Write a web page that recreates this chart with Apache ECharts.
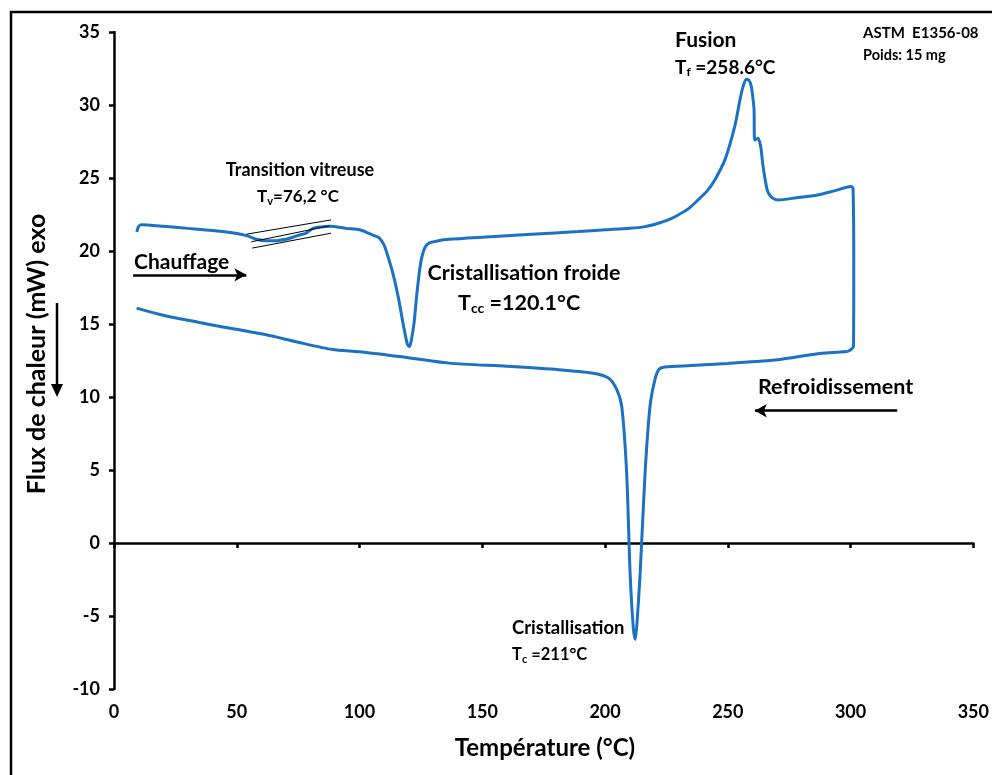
<!DOCTYPE html>
<html>
<head>
<meta charset="utf-8">
<script src="https://cdn.jsdelivr.net/npm/echarts@6/dist/echarts.min.js"></script>
<style>
html,body{margin:0;padding:0;background:#fff;}
#c{width:992px;height:775px;}
</style>
</head>
<body>
<div id="c"></div>
<script>
// ---- data ----
const xTicks = [0, 50, 100, 150, 200, 250, 300, 350];
const yTicks = [-10, -5, 0, 5, 10, 15, 20, 25, 30, 35];

// heating run (T in °C, heat flow in mW), including the drop at the end of the ramp
const heatT = [9.3, 9.9, 11, 20, 30, 40, 50, 54, 58, 62, 66, 70, 73, 75.5, 78, 81, 84, 88, 94.5, 100, 102.6, 106, 108, 110, 112, 114, 116, 118, 119.5, 120.3, 121, 122.2, 123.5, 124.9, 126.5, 128.3, 132, 136.4, 150, 170, 189, 200, 210, 216.3, 221.7, 226, 229.8, 234, 237.9, 241.5, 244.7, 248.8, 252.8, 255, 256.2, 257.5, 258.6, 259.6, 260.4, 260.7, 260.9, 262.3, 263.4, 264.2, 265, 266, 267, 268.5, 270.4, 278, 286.6, 293, 300.2, 301, 301.3, 301.2, 300.5, 298.8];
const heatFlux = [21.3, 21.65, 21.8, 21.7, 21.55, 21.4, 21.2, 21.05, 20.8, 20.7, 20.7, 20.8, 20.95, 21.1, 21.2, 21.55, 21.65, 21.7, 21.55, 21.45, 21.3, 21.05, 20.9, 20.4, 19.4, 18.2, 16.65, 14.8, 13.6, 13.45, 13.8, 15.06, 17.3, 19.17, 20.2, 20.54, 20.7, 20.8, 20.95, 21.15, 21.33, 21.45, 21.55, 21.67, 21.9, 22.15, 22.47, 22.9, 23.5, 24.1, 24.87, 26.24, 28.52, 30.4, 31.26, 31.76, 31.7, 31.26, 30.2, 29.66, 27.6, 27.72, 27.15, 26.0, 25.1, 24.2, 23.84, 23.6, 23.5, 23.65, 23.84, 24.1, 24.41, 24.3, 18.94, 13.5, 13.3, 13.12];

// cooling run
const coolT = [298.8, 286.6, 270.4, 250, 235, 224.4, 222, 220.3, 218.3, 216.3, 214.3, 213, 212.3, 211.5, 210.2, 208.8, 206.8, 204.8, 201.4, 194.6, 181.1, 160, 136.4, 116.1, 100, 89, 75, 62, 41.7, 34.9, 20, 9.2];
const coolFlux = [13.12, 12.96, 12.55, 12.3, 12.15, 12.05, 11.9, 11.18, 9.35, 4.79, -2.05, -5.5, -6.6, -5.8, -2.05, 4.79, 9.35, 10.5, 11.3, 11.64, 11.87, 12.1, 12.32, 12.77, 13.1, 13.25, 13.75, 14.26, 14.88, 15.1, 15.6, 16.09];

// glass-transition construction lines [T0, y0, T1, y1]
const tangentUpper = [53.9, 21.15, 88.4, 22.13];
const tangentMiddle = [55.9, 20.63, 87.7, 21.72];
const tangentLower = [56.3, 20.2, 88.4, 21.22];

// direction arrows [Tstart, y, Tend, y]
const arrowHeat = [7.8, 18.37, 53.9, 18.37];
const arrowCool = [319, 9.06, 261, 9.06];

const zip = (a, b) => a.map((v, i) => [v, b[i]]);
const seg = s => [[s[0], s[1]], [s[2], s[3]]];

const FONT = 'Lato';
const BLUE = '#1b72c4';

const chart = echarts.init(document.getElementById('c'), null, {renderer: 'canvas'});

function tangentSeries(s) {
  return {
    type: 'line', data: seg(s), symbol: 'none', silent: true,
    lineStyle: {color: '#000', width: 1}, z: 5
  };
}
function arrowSeries(s) {
  return {
    type: 'line', data: [], symbol: 'none', silent: true,
    markLine: {
      silent: true, symbol: ['none', 'arrow'], symbolSize: [10, 12],
      label: {show: false},
      lineStyle: {color: '#000', width: 2.5, type: 'solid'},
      data: [[{coord: [s[0], s[1]]}, {coord: [s[2], s[3]]}]]
    }
  };
}

const txtStyle = (size, weight) => ({fontFamily: FONT, fontSize: size, fontWeight: weight || 'bold', fill: '#000'});

chart.setOption({
  animation: false,
  backgroundColor: '#fff',
  grid: {left: 114, right: 16, top: 32, bottom: 86, containLabel: false},
  xAxis: {
    type: 'value', min: 0, max: 350, interval: 50,
    axisLine: {show: true, lineStyle: {color: '#000', width: 2.5}},
    axisTick: {show: true, inside: false, length: 5, lineStyle: {color: '#000', width: 2.5}},
    axisLabel: {color: '#000', fontFamily: FONT, fontSize: 18, fontWeight: 'bold', margin: 14},
    splitLine: {show: false}
  },
  yAxis: {
    type: 'value', min: -10, max: 35, interval: 5,
    axisLine: {show: true, lineStyle: {color: '#000', width: 2.5}},
    axisTick: {show: true, inside: false, length: 5, lineStyle: {color: '#000', width: 2.5}},
    axisLabel: {color: '#000', fontFamily: FONT, fontSize: 18, fontWeight: 'bold', margin: 14},
    splitLine: {show: false}
  },
  series: [
    {type: 'line', name: 'chauffage', data: zip(heatT, heatFlux), symbol: 'none', smooth: 0.25,
     lineStyle: {color: BLUE, width: 3}, z: 4},
    {type: 'line', name: 'refroidissement', data: zip(coolT, coolFlux), symbol: 'none', smooth: 0.25,
     lineStyle: {color: BLUE, width: 3}, z: 4},
    tangentSeries(tangentUpper),
    tangentSeries(tangentMiddle),
    tangentSeries(tangentLower),
    arrowSeries(arrowHeat),
    arrowSeries(arrowCool)
  ],
  graphic: [
    // outer frame (left & top visible)
    {type: 'polyline', shape: {points: [[11, 780], [11, 12], [1000, 12]]}, style: {stroke: '#000', lineWidth: 2.5, fill: null}},
    // y-axis direction arrow
    {type: 'line', shape: {x1: 57, y1: 303, x2: 57, y2: 392}, style: {stroke: '#000', lineWidth: 2.5}},
    {type: 'polygon', shape: {points: [[51, 384], [63, 384], [57, 397]]}, style: {fill: '#000'}},
    // titles
    {type: 'text', x: 37, y: 354, rotation: Math.PI / 2,
     style: Object.assign({text: 'Flux de chaleur (mW) exo', align: 'center', verticalAlign: 'middle'}, txtStyle(25))},
    {type: 'text', x: 545, y: 748,
     style: Object.assign({text: 'Température (°C)', align: 'center', verticalAlign: 'middle'}, txtStyle(24))},
    // annotations
    {type: 'text', x: 300, y: 170, style: Object.assign({text: 'Transition vitreuse', align: 'center', verticalAlign: 'middle'}, txtStyle(18))},
    {type: 'text', x: 298, y: 197, style: {text: 'T{s|v}=76,2 °C', align: 'center', verticalAlign: 'middle', fontFamily: FONT, fontSize: 17, fontWeight: 'bold', fill: '#000',
      rich: {s: {fontFamily: FONT, fontSize: 11, fontWeight: 'bold', verticalAlign: 'bottom', padding: [8, 0, 0, 0]}}}},
    {type: 'text', x: 134, y: 262, style: Object.assign({text: 'Chauffage', align: 'left', verticalAlign: 'middle'}, txtStyle(21))},
    {type: 'text', x: 524, y: 273, style: Object.assign({text: 'Cristallisation froide', align: 'center', verticalAlign: 'middle'}, txtStyle(21.5))},
    {type: 'text', x: 458, y: 303, style: {text: 'T{s|cc} =120.1°C', align: 'left', verticalAlign: 'middle', fontFamily: FONT, fontSize: 21.5, fontWeight: 'bold', fill: '#000',
      rich: {s: {fontFamily: FONT, fontSize: 14, fontWeight: 'bold', verticalAlign: 'bottom', padding: [10, 0, 0, 0]}}}},
    {type: 'text', x: 675, y: 40, style: Object.assign({text: 'Fusion', align: 'left', verticalAlign: 'middle'}, txtStyle(21))},
    {type: 'text', x: 675, y: 68, style: {text: 'T{s|f} =258.6°C', align: 'left', verticalAlign: 'middle', fontFamily: FONT, fontSize: 19, fontWeight: 'bold', fill: '#000',
      rich: {s: {fontFamily: FONT, fontSize: 12, fontWeight: 'bold', verticalAlign: 'bottom', padding: [9, 0, 0, 0]}}}},
    {type: 'text', x: 863, y: 33, style: Object.assign({text: 'ASTM  E1356-08', align: 'left', verticalAlign: 'middle'}, txtStyle(15))},
    {type: 'text', x: 863, y: 55, style: Object.assign({text: 'Poids: 15 mg', align: 'left', verticalAlign: 'middle'}, txtStyle(14.5))},
    {type: 'text', x: 758, y: 387, style: Object.assign({text: 'Refroidissement', align: 'left', verticalAlign: 'middle'}, txtStyle(21.5))},
    {type: 'text', x: 512, y: 628, style: Object.assign({text: 'Cristallisation', align: 'left', verticalAlign: 'middle'}, txtStyle(18.5))},
    {type: 'text', x: 512, y: 655, style: {text: 'T{s|c} =211°C', align: 'left', verticalAlign: 'middle', fontFamily: FONT, fontSize: 16.5, fontWeight: 'bold', fill: '#000',
      rich: {s: {fontFamily: FONT, fontSize: 11, fontWeight: 'bold', verticalAlign: 'bottom', padding: [8, 0, 0, 0]}}}}
  ]
});
</script>
</body>
</html>
